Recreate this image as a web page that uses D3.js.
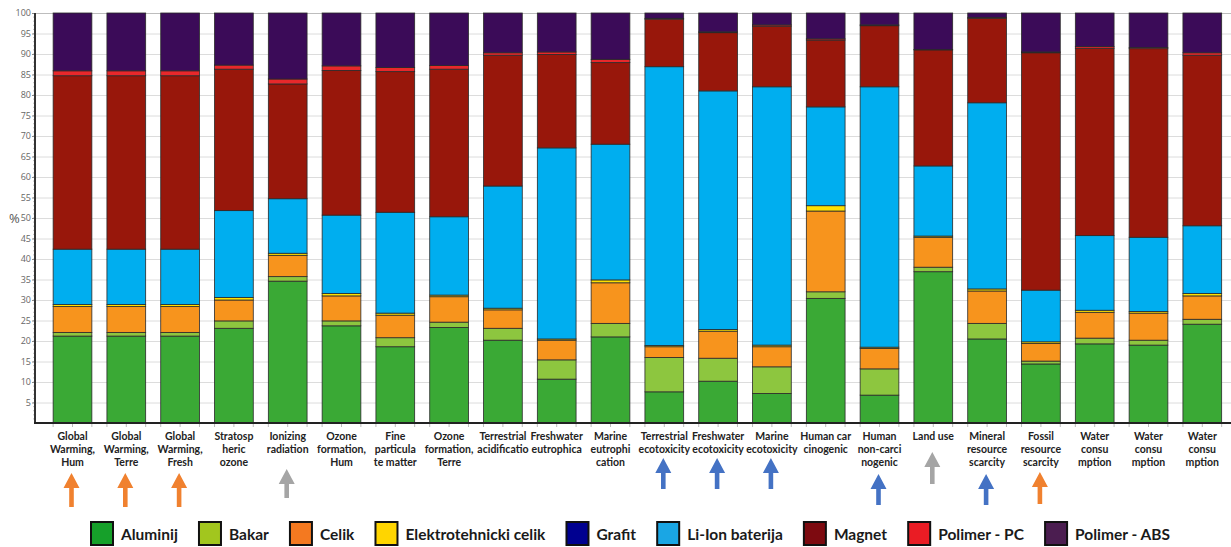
<!DOCTYPE html>
<html>
<head>
<meta charset="utf-8">
<script src="https://cdn.jsdelivr.net/npm/d3@7/dist/d3.min.js"></script>
<style>
  html, body { margin: 0; padding: 0; background: #fff; }
  svg { display: block; }
</style>
</head>
<body>
<div id="chart"></div>
<script>
// kategorije (oznake po redovima)
var kategorije = [
    ["Global", "Warming,", "Hum"],
    ["Global", "Warming,", "Terre"],
    ["Global", "Warming,", "Fresh"],
    ["Stratosp", "heric", "ozone"],
    ["Ionizing", "radiation"],
    ["Ozone", "formation,", "Hum"],
    ["Fine", "particula", "te matter"],
    ["Ozone", "formation,", "Terre"],
    ["Terrestrial", "acidificatio"],
    ["Freshwater", "eutrophica"],
    ["Marine", "eutrophi", "cation"],
    ["Terrestrial", "ecotoxicity"],
    ["Freshwater", "ecotoxicity"],
    ["Marine", "ecotoxicity"],
    ["Human car", "cinogenic"],
    ["Human", "non-carci", "nogenic"],
    ["Land use"],
    ["Mineral", "resource", "scarcity"],
    ["Fossil", "resource", "scarcity"],
    ["Water", "consu", "mption"],
    ["Water", "consu", "mption"],
    ["Water", "consu", "mption"]
];

var serije = ["Aluminij", "Bakar", "Celik", "Elektrotehnicki celik", "Grafit",
              "Li-Ion baterija", "Magnet", "Polimer - PC", "Polimer - ABS"];

var aluminij = [21.2, 21.2, 21.2, 23.1, 34.6, 23.7, 18.6, 23.3, 20.2, 10.7, 21.0, 7.6, 10.2, 7.2, 30.4, 6.8, 36.9, 20.5, 14.4, 19.3, 19.0, 24.1];
var bakar    = [0.9, 0.9, 0.9, 1.8, 1.1, 1.2, 2.2, 1.3, 2.9, 4.7, 3.3, 8.4, 5.6, 6.5, 1.6, 6.4, 1.1, 3.8, 0.7, 1.4, 1.2, 1.2];
var celik    = [6.3, 6.3, 6.3, 5.1, 5.2, 6.1, 5.5, 6.2, 4.5, 4.8, 9.9, 2.6, 6.6, 4.9, 19.7, 5.0, 7.3, 7.9, 4.3, 6.3, 6.6, 5.7];
var elektro  = [0.5, 0.5, 0.5, 0.6, 0.5, 0.6, 0.5, 0.4, 0.4, 0.3, 0.7, 0.3, 0.4, 0.4, 1.3, 0.3, 0.3, 0.5, 0.4, 0.5, 0.4, 0.6];
var grafit   = [0, 0, 0, 0, 0, 0, 0, 0, 0, 0, 0, 0, 0, 0, 0, 0, 0, 0, 0, 0, 0, 0];
var liIon    = [13.5, 13.5, 13.5, 21.2, 13.3, 19.1, 24.6, 19.1, 29.8, 46.6, 33.1, 68.0, 58.2, 63.0, 24.1, 63.5, 17.1, 45.4, 12.6, 18.2, 18.1, 16.5];
var magnet   = [42.3, 42.3, 42.3, 34.5, 28.0, 35.3, 34.3, 36.0, 31.9, 22.8, 19.9, 11.6, 14.2, 14.8, 16.3, 14.9, 28.3, 20.6, 57.9, 45.7, 46.0, 41.6];
var polimerPC  = [1.2, 1.2, 1.2, 1.0, 1.2, 1.1, 1.0, 0.9, 0.6, 0.6, 0.8, 0.2, 0.2, 0.3, 0.3, 0.2, 0.1, 0.2, 0.2, 0.4, 0.3, 0.6];
var polimerABS = [14.1, 14.1, 14.1, 12.7, 16.1, 12.9, 13.3, 12.8, 9.7, 9.5, 11.3, 1.3, 4.6, 2.9, 6.3, 2.9, 8.9, 1.1, 9.5, 8.2, 8.4, 9.7];

var vrijednosti = [aluminij, bakar, celik, elektro, grafit, liIon, magnet, polimerPC, polimerABS];

var yTicks = [5, 10, 15, 20, 25, 30, 35, 40, 45, 50, 55, 60, 65, 70, 75, 80, 85, 90, 95, 100];

// strelice ispod kategorija (indeks kategorije, boja)
var strelice = [
    [0, "orange"], [1, "orange"], [2, "orange"], [4, "gray"],
    [11, "blue"], [12, "blue"], [13, "blue"], [15, "blue"],
    [16, "gray"], [17, "blue"], [18, "orange"]
];

var boje = ["#3aa935", "#8dc63f", "#f7941d", "#ffe000", "#00008b",
            "#00aeef", "#98170b", "#e8282b", "#3b0b58"];
var bojeLegenda = ["#16a02a", "#a2c61e", "#f47920", "#ffd500", "#000090",
                   "#1aa6e4", "#7d0a10", "#ea1c24", "#4b1d50"];
var bojeStrelica = { orange: "#f0812f", gray: "#a5a5a5", blue: "#4472c4" };
// vrh / dno strelice po kategoriji
var strelicaY = { 0: [473, 507], 1: [473, 507], 2: [473, 507], 4: [469, 498],
                  11: [458, 489], 12: [458, 489], 13: [458, 489], 15: [474, 505],
                  16: [452, 484], 17: [474, 505], 18: [472, 504] };

!function() {
    var W = 1231, H = 547;
    var x0 = 35, yTop = 13, yBase = 423;

    var svg = d3.select("#chart").append("svg")
        .attr("width", W).attr("height", H);

    var idx = d3.range(kategorije.length);
    var redovi = idx.map(function(i) {
        var r = { i: i };
        serije.forEach(function(s, k) { r[s] = vrijednosti[k][i]; });
        return r;
    });

    var fx = d3.scaleBand().domain(idx)
        .range([45.6, 1229.2])
        .paddingInner(0.28).paddingOuter(0.14);
    var fy = d3.scaleLinear().domain([0, 100]).range([yBase, yTop]);

    // mreza
    svg.append("g").selectAll("line")
        .data(yTicks).enter().append("line")
        .attr("x1", x0).attr("x2", W)
        .attr("y1", function(d) { return fy(d) + 0.5; })
        .attr("y2", function(d) { return fy(d) + 0.5; })
        .attr("stroke", function(d) { return d === 100 ? "#bdbdbd" : "#dcdcdc"; })
        .attr("stroke-width", 1);

    // stupci
    var stack = d3.stack().keys(serije);
    var slojevi = stack(redovi);

    svg.append("g").selectAll("g")
        .data(slojevi).enter().append("g")
          .attr("fill", function(d, k) { return boje[k]; })
        .selectAll("rect")
        .data(function(d) { return d.filter(function(p) { return p[1] - p[0] > 0; }); })
        .enter().append("rect")
          .attr("x", function(d) { return fx(d.data.i); })
          .attr("width", fx.bandwidth())
          .attr("y", function(d) { return fy(d[1]); })
          .attr("height", function(d) { return fy(d[0]) - fy(d[1]); })
          .attr("stroke", "#2a2a2a")
          .attr("stroke-width", 0.8);

    // y os
    var yAxis = d3.axisLeft(fy).tickValues(yTicks).tickSize(3).tickPadding(1);
    var gy = svg.append("g").attr("transform", "translate(" + x0 + ",0)").call(yAxis);
    gy.select(".domain").remove();
    gy.selectAll("text").style("font-family", "'Open Sans', sans-serif")
        .style("font-size", "9px").attr("fill", "#666");
    gy.selectAll(".tick line").attr("stroke", "#888");

    // sitne crtice
    svg.append("g").selectAll("line")
        .data(d3.range(1, 100)).enter().append("line")
        .attr("x1", x0 - 2).attr("x2", x0)
        .attr("y1", function(d) { return fy(d); })
        .attr("y2", function(d) { return fy(d); })
        .attr("stroke", "#999").attr("stroke-width", 0.6);

    svg.append("line")
        .attr("x1", x0).attr("x2", x0)
        .attr("y1", yTop).attr("y2", yBase + 1)
        .attr("stroke", "#333").attr("stroke-width", 2);

    // x os
    var xt = [];
    idx.forEach(function(i) {
        var a = fx(i), b = fx.bandwidth();
        xt.push(a, a + b / 2, a + b);
    });
    svg.append("g").selectAll("line")
        .data(xt).enter().append("line")
        .attr("x1", function(d) { return d; }).attr("x2", function(d) { return d; })
        .attr("y1", yBase).attr("y2", yBase + 4)
        .attr("stroke", "#aaa").attr("stroke-width", 0.8);
    svg.append("line")
        .attr("x1", x0 - 1).attr("x2", W)
        .attr("y1", yBase).attr("y2", yBase)
        .attr("stroke", "#222").attr("stroke-width", 2);

    svg.append("text")
        .attr("x", 9).attr("y", 223)
        .style("font-family", "'Open Sans', sans-serif").style("font-size", "13px")
        .attr("fill", "#555").text("%");

    // oznake kategorija
    var lab = svg.append("g").selectAll("text")
        .data(kategorije).enter().append("text")
        .attr("text-anchor", "middle")
        .style("font-family", "Lato, sans-serif").style("font-weight", "bold")
        .style("font-size", "10.5px").attr("fill", "#222");
    lab.selectAll("tspan")
        .data(function(d, i) { return d.map(function(t) { return { t: t, i: i }; }); })
        .enter().append("tspan")
        .attr("x", function(d) { return fx(d.i) + fx.bandwidth() / 2; })
        .attr("y", function(d, j) { return 440 + j * 13; })
        .text(function(d) { return d.t; });

    // strelice
    var gs = svg.append("g");
    strelice.forEach(function(s) {
        var cx = fx(s[0]) + fx.bandwidth() / 2 - 1;
        var yy = strelicaY[s[0]];
        var top = yy[0], bot = yy[1], hh = 15, hw = 8, sw = 2.3;
        var path = "M" + cx + "," + top +
                   "L" + (cx + hw) + "," + (top + hh) +
                   "L" + (cx + sw) + "," + (top + hh) +
                   "L" + (cx + sw) + "," + bot +
                   "L" + (cx - sw) + "," + bot +
                   "L" + (cx - sw) + "," + (top + hh) +
                   "L" + (cx - hw) + "," + (top + hh) + "Z";
        gs.append("path").attr("d", path).attr("fill", bojeStrelica[s[1]]);
    });

    // legenda
    var leg = svg.append("g");
    var stavke = leg.selectAll("g").data(serije).enter().append("g");
    stavke.append("rect")
        .attr("width", 22).attr("height", 23)
        .attr("y", 522)
        .attr("fill", function(d, k) { return bojeLegenda[k]; })
        .attr("stroke", "#111").attr("stroke-width", 2);
    stavke.append("text")
        .attr("y", 540)
        .style("font-family", "Lato, sans-serif").style("font-weight", "bold")
        .style("font-size", "15.5px").attr("fill", "#1a1a1a")
        .text(function(d) { return d; });

    var sirine = [];
    stavke.select("text").each(function() { sirine.push(this.getComputedTextLength()); });
    var lijevo = 91, desno = 1170, razmak = 8, kv = 22;
    var ukupno = d3.sum(sirine) + serije.length * (kv + razmak);
    var gap = (desno - lijevo - ukupno) / (serije.length - 1);
    var xx = lijevo;
    stavke.each(function(d, k) {
        var g = d3.select(this);
        g.select("rect").attr("x", xx);
        g.select("text").attr("x", xx + kv + razmak);
        xx += kv + razmak + sirine[k] + gap;
    });
}();
</script>
</body>
</html>
